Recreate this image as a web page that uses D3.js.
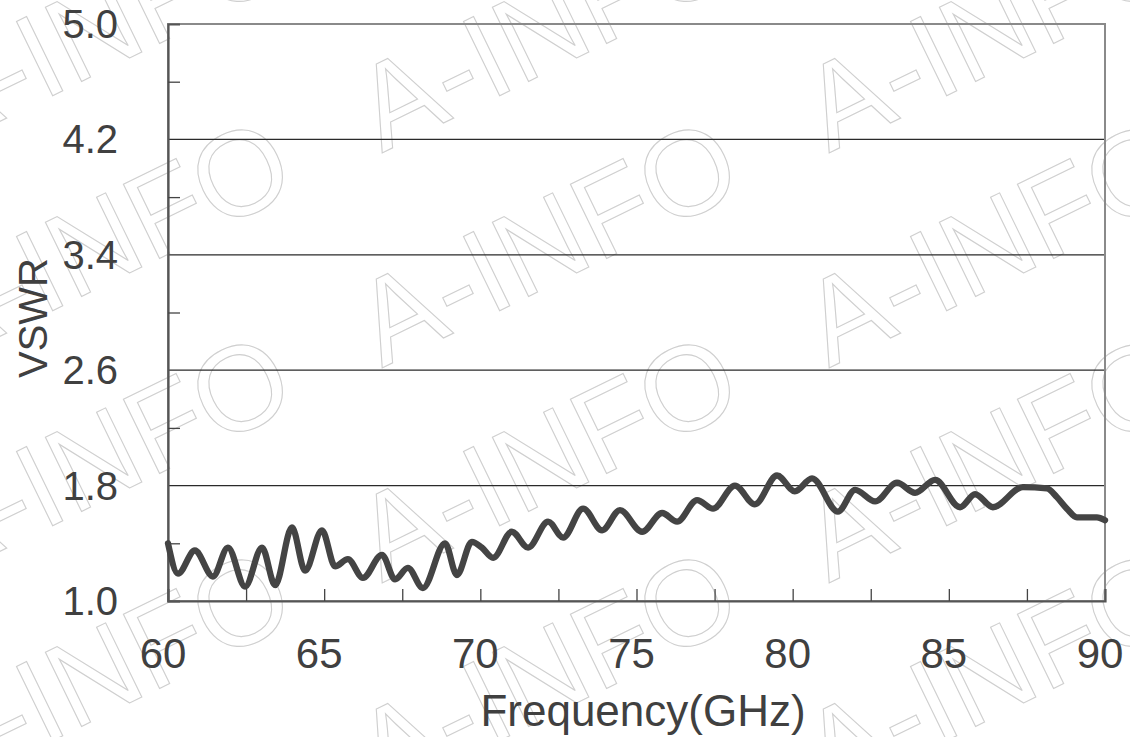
<!DOCTYPE html>
<html>
<head>
<meta charset="utf-8">
<script src="https://cdn.jsdelivr.net/npm/d3@7"></script>
<style>
  html, body { margin: 0; padding: 0; background: #fff; }
  svg { display: block; }
  text { font-family: "Liberation Sans", Arial, sans-serif; }
</style>
</head>
<body>
<svg id="chart" width="1130" height="737"></svg>
<script>
// ---- data ----
const freq = [60.00, 60.32, 60.86, 61.44, 61.92, 62.47, 63.01, 63.43, 63.97, 64.39,
              64.93, 65.35, 65.76, 66.24, 66.85, 67.27, 67.68, 68.16, 68.87, 69.25,
              69.73, 70.05, 70.41, 71.01, 71.53, 72.17, 72.65, 73.29, 73.90, 74.47,
              75.18, 75.82, 76.30, 76.94, 77.45, 78.15, 78.79, 79.50, 80.07, 80.62,
              81.45, 82.00, 82.64, 83.34, 83.92, 84.56, 85.36, 85.84, 86.41, 87.37,
              88.14, 88.46, 88.78, 89.10, 89.30, 89.74, 90.00];
const vswr = [1.40, 1.19, 1.35, 1.17, 1.37, 1.10, 1.37, 1.11, 1.51, 1.21,
              1.49, 1.24, 1.29, 1.16, 1.32, 1.15, 1.23, 1.09, 1.40, 1.18,
              1.41, 1.37, 1.30, 1.48, 1.37, 1.55, 1.44, 1.64, 1.49, 1.63,
              1.48, 1.61, 1.55, 1.70, 1.64, 1.80, 1.67, 1.87, 1.76, 1.85,
              1.62, 1.77, 1.69, 1.82, 1.75, 1.84, 1.65, 1.74, 1.65, 1.79,
              1.78, 1.72, 1.64, 1.58, 1.58, 1.58, 1.56];
const xTickLabels = [60, 65, 70, 75, 80, 85, 90];
const xMinorTicks = [62.5, 67.5, 72.5, 77.5, 82.5, 87.5];
const yTickLabels = [1.0, 1.8, 2.6, 3.4, 4.2, 5.0];
const yMinorTicks = [1.4, 2.2, 3.0, 3.8, 4.6];
const xTitle = "Frequency(GHz)";
const yTitle = "VSWR";
const watermark = "A-INFO";

// ---- layout ----
const svg = d3.select("#chart");
const L = 168, R = 1105, T = 24, B = 601;
const x = d3.scaleLinear().domain([60, 90]).range([L, R]);
const y = d3.scaleLinear().domain([1.0, 5.0]).range([B, T]);

// watermark (background, clipped by the picture edge as in the reference)
const wm = svg.append("g").attr("class", "watermark");
for (let i = -1; i <= 2; i++) {
  for (let j = -1; j <= 3; j++) {
    const px = 382 + 447 * i, py = 368 + 215 * j;
    wm.append("text")
      .attr("transform", `translate(${px},${py}) rotate(-26)`)
      .attr("font-size", 120)
      .attr("fill", "none")
      .attr("stroke", "#cfcfcf")
      .attr("stroke-width", 1.1)
      .text(watermark);
  }
}

// gridlines
svg.append("g")
  .selectAll("line")
  .data(yTickLabels.filter(v => v > 1.0 && v < 5.0))
  .join("line")
  .attr("x1", L).attr("x2", R)
  .attr("y1", d => y(d)).attr("y2", d => y(d))
  .attr("stroke", "#2a2a2a").attr("stroke-width", 1.3);

// frame
svg.append("rect")
  .attr("x", L).attr("y", T).attr("width", R - L).attr("height", B - T)
  .attr("fill", "none").attr("stroke", "#8a8a8a").attr("stroke-width", 2);

// left axis (inner ticks)
const yAxis = d3.axisRight(y).tickValues(yMinorTicks).tickSize(12).tickFormat("");
const gy = svg.append("g").attr("transform", `translate(${L},0)`).call(yAxis);
gy.select(".domain").attr("stroke", "#555").attr("stroke-width", 2.2);
gy.selectAll(".tick line").attr("stroke", "#444").attr("stroke-width", 1.3);

// bottom axis (inner ticks)
const xAxis = d3.axisTop(x).tickValues(xMinorTicks.concat(xTickLabels.slice(1, -1))).tickSize(12).tickFormat("");
const gx = svg.append("g").attr("transform", `translate(0,${B})`).call(xAxis);
gx.select(".domain").attr("stroke", "#555").attr("stroke-width", 2.2);
gx.selectAll(".tick line").attr("stroke", "#444").attr("stroke-width", 1.3);

// y tick labels
svg.append("g").selectAll("text")
  .data(yTickLabels).join("text")
  .attr("x", 118).attr("y", d => y(d) + 14)
  .attr("text-anchor", "end")
  .attr("font-size", 40)
  .attr("fill", "#404040")
  .text(d => d.toFixed(1));

// x tick labels
svg.append("g").selectAll("text")
  .data(xTickLabels).join("text")
  .attr("x", d => x(d) - 5).attr("y", 668)
  .attr("text-anchor", "middle")
  .attr("font-size", 42)
  .attr("fill", "#404040")
  .text(d => d);

// axis titles
svg.append("text")
  .attr("x", 643).attr("y", 726)
  .attr("text-anchor", "middle")
  .attr("font-size", 44)
  .attr("fill", "#404040")
  .text(xTitle);

svg.append("text")
  .attr("transform", "translate(47,318) rotate(-90)")
  .attr("text-anchor", "middle")
  .attr("font-size", 40)
  .attr("fill", "#404040")
  .text(yTitle);

// data line
const line = d3.line()
  .x((d, i) => x(freq[i]))
  .y(d => y(d))
  .curve(d3.curveMonotoneX);

svg.append("path")
  .datum(vswr)
  .attr("d", line)
  .attr("fill", "none")
  .attr("stroke", "#444")
  .attr("stroke-width", 6.3)
  .attr("stroke-linejoin", "round")
  .attr("stroke-linecap", "round");
</script>
</body>
</html>
